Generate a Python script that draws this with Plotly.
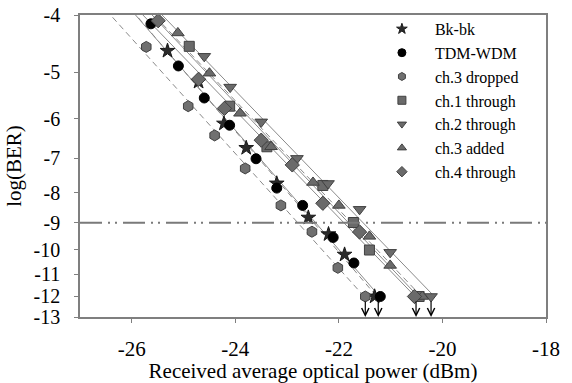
import numpy as np
import plotly.graph_objects as go

# ---------------- data ----------------
series_names = ["Bk-bk", "TDM-WDM", "ch.3 dropped", "ch.1 through",
                "ch.2 through", "ch.3 added", "ch.4 through"]

bkbk_x = [-25.31, -24.71, -24.22, -23.79, -23.20, -22.59, -22.20, -21.89, -21.31]
bkbk_y = [-4.60, -5.19, -6.11, -6.72, -7.72, -8.82, -9.41, -10.19, -12.0]

tdm_x = [-25.63, -25.10, -24.60, -24.11, -23.60, -23.20, -22.70, -22.11, -21.71, -21.20]
tdm_y = [-4.14, -4.88, -5.53, -6.15, -7.01, -7.86, -8.41, -9.53, -10.53, -12.0]

ch3d_x = [-25.72, -24.91, -24.40, -23.81, -23.12, -22.52, -22.02, -21.49]
ch3d_y = [-4.53, -5.71, -6.40, -7.28, -8.41, -9.32, -10.73, -12.0]

ch1_x = [-24.89, -24.11, -23.39, -22.31, -21.72, -21.41, -20.45]
ch1_y = [-4.52, -5.71, -6.69, -7.78, -8.99, -10.01, -12.0]

ch2_x = [-24.60, -24.10, -23.50, -22.81, -22.21, -21.60, -21.01, -20.22]
ch2_y = [-4.70, -5.30, -6.07, -7.00, -7.72, -8.54, -10.10, -12.0]

ch3a_x = [-25.11, -24.50, -23.91, -23.31, -22.50, -22.00, -21.41, -21.01, -20.39]
ch3a_y = [-4.29, -5.02, -5.87, -6.69, -7.69, -8.41, -9.49, -10.63, -12.0]

ch4_x = [-25.49, -24.71, -24.21, -23.50, -22.90, -22.31, -21.60, -20.54]
ch4_y = [-4.09, -5.14, -5.76, -6.52, -7.18, -8.34, -9.33, -12.0]

# error-free (arrow) positions
arrow_x = [-21.49, -21.24, -20.51, -20.22]

threshold_logber = -9
x_ticks = [-26, -24, -22, -20, -18]
y_tick_values = [-4, -5, -6, -7, -8, -9, -10, -11, -12, -13]

# ---------------- styling ----------------
symbols = ["star", "circle", "hexagon", "square", "triangle-down", "triangle-up", "diamond"]
fills = ["#2b2b2b", "#000000", "#707070", "#6a6a6a", "#6a6a6a", "#6a6a6a", "#6a6a6a"]
edges = ["#1a1a1a", "#000000", "#404040", "#404040", "#404040", "#404040", "#404040"]
sizes = [11, 10, 11, 10, 11, 11, 11]
dashes = ["6px,4px", "solid", "6px,4px", "solid", "solid", "6px,4px", "solid"]

FONT = "Times New Roman, Liberation Serif, DejaVu Serif, serif"


def tr(logber):
    return np.log10(-np.asarray(logber, dtype=float))


xs = [bkbk_x, tdm_x, ch3d_x, ch1_x, ch2_x, ch3a_x, ch4_x]
ys = [bkbk_y, tdm_y, ch3d_y, ch1_y, ch2_y, ch3a_y, ch4_y]

fig = go.Figure()

# fitted lines
for i in range(len(series_names)):
    v = tr(ys[i])
    a, b = np.polyfit(v, np.asarray(xs[i]), 1)
    vline = tr([-3.7, -12.0])
    fig.add_trace(go.Scatter(
        x=a * vline + b, y=vline, mode="lines",
        line=dict(color="#8a8a8a", width=1, dash=dashes[i]),
        showlegend=False, hoverinfo="skip"))

# markers
for i in range(len(series_names)):
    fig.add_trace(go.Scatter(
        x=xs[i], y=tr(ys[i]), mode="markers", name=series_names[i],
        marker=dict(symbol=symbols[i], size=sizes[i], color=fills[i],
                    line=dict(color=edges[i], width=1)),
        showlegend=False, cliponaxis=False))

# legend entries (smaller symbols as in the figure)
for i in range(len(series_names)):
    fig.add_trace(go.Scatter(
        x=[None], y=[None], mode="markers", name=series_names[i],
        marker=dict(symbol=symbols[i], size=8, color=fills[i],
                    line=dict(color=edges[i], width=1)),
        showlegend=True))

# threshold line
yth = float(tr([threshold_logber])[0])
fig.add_shape(type="line", xref="paper", x0=0, x1=1, yref="y", y0=yth, y1=yth,
              line=dict(color="#7a7a7a", width=2, dash="22px,6px,2px,5px,2px,6px"))

# arrows for error-free points
for ax_ in arrow_x:
    fig.add_annotation(x=ax_, y=float(tr([-13])[0]), ax=0, ay=-17,
                       text="", showarrow=True, arrowhead=5, arrowsize=1.2,
                       arrowwidth=1.2, arrowcolor="#000000", standoff=0)

fig.update_layout(
    width=572, height=383,
    margin=dict(l=80, r=26, t=12, b=66),
    plot_bgcolor="white", paper_bgcolor="white",
    font=dict(family=FONT, color="#000000", size=21),
    legend=dict(x=0.62, y=1.01, xanchor="left", yanchor="top",
                bgcolor="rgba(0,0,0,0)", font=dict(family=FONT, size=16),
                itemwidth=56, tracegroupgap=0),
)

fig.update_xaxes(
    range=[-27, -18], tickvals=x_ticks, ticktext=[str(t) for t in x_ticks],
    showline=True, linecolor="#7f7f7f", linewidth=1.5, mirror=True,
    ticks="outside", ticklen=4, tickcolor="#7f7f7f", showgrid=False, zeroline=False,
    tickfont=dict(size=21), ticklabelstandoff=8, automargin=False,
    ticklabeloverflow="allow",
    title=dict(text="Received average optical power (dBm)", font=dict(size=21), standoff=2),
)

fig.update_yaxes(
    range=[float(tr([-13])[0]), float(tr([-4])[0])],
    tickvals=list(tr(y_tick_values)), ticktext=[str(t) for t in y_tick_values],
    showline=True, linecolor="#7f7f7f", linewidth=1.5, mirror=True,
    ticks="outside", ticklen=4, tickcolor="#7f7f7f", showgrid=False, zeroline=False,
    tickfont=dict(size=20), ticklabelstandoff=10, automargin=False,
    ticklabeloverflow="allow",
    title=dict(text="log(BER)", font=dict(size=21), standoff=6),
)

# remove the browser's default 8px page margin so the figure fills the window
fig.write_html("out.html", config={"displayModeBar": False},
               post_script="document.body.style.margin='0px';")
